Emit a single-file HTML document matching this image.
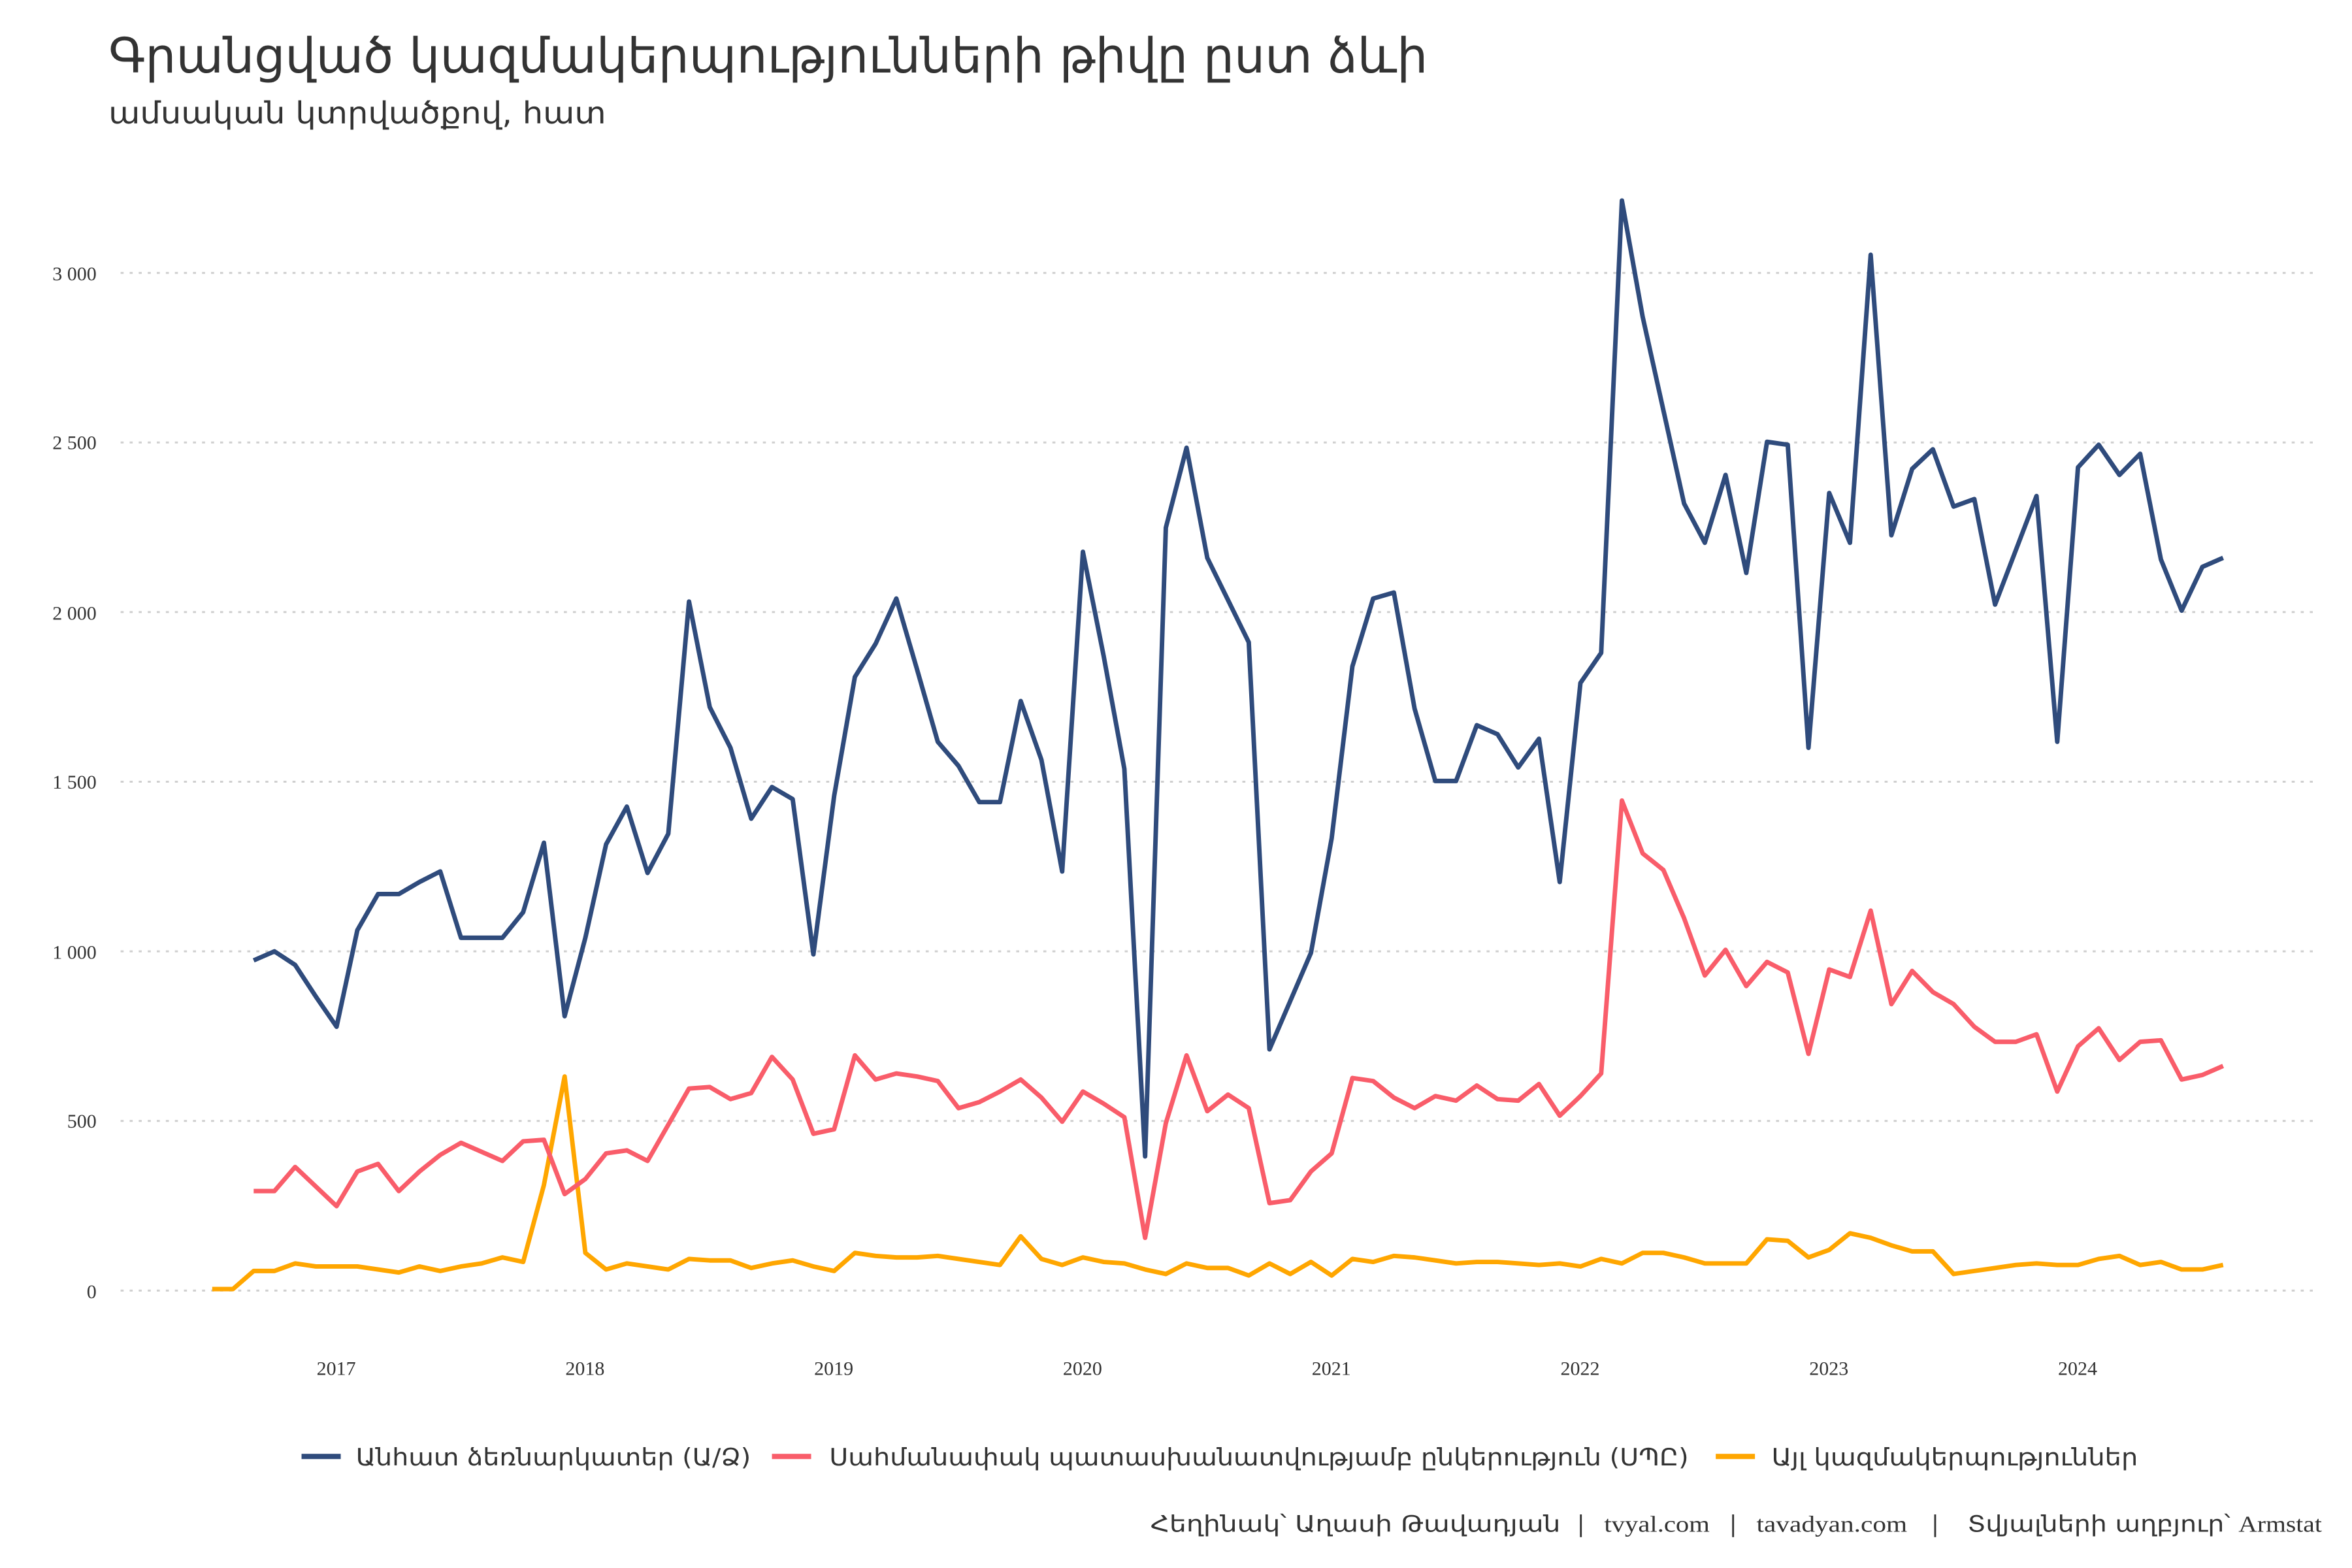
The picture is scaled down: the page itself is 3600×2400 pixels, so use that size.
<!DOCTYPE html>
<html><head><meta charset="utf-8">
<style>
html,body{margin:0;padding:0;background:#fff;}
svg{display:block;}
text{font-family:"DejaVu Sans","Liberation Sans",sans-serif;fill:#333;}
.tick{font-family:"Liberation Serif","DejaVu Serif",serif;font-size:13px;fill:#333;}
.sf{font-family:"Liberation Serif","DejaVu Serif",serif;}
</style></head><body>
<svg id="s" width="3600" height="2400" viewBox="0 0 1560 1040" xmlns="http://www.w3.org/2000/svg">
<rect width="1560" height="1040" fill="#fff"/>
<text x="72" y="48" font-size="32" fill="#3a3a3a" textLength="875" lengthAdjust="spacingAndGlyphs">Գրանցված կազմակերպությունների թիվը ըստ ձևի</text>
<text x="72" y="82" font-size="20" fill="#3a3a3a" textLength="330" lengthAdjust="spacingAndGlyphs">ամսական կտրվածքով, հատ</text>
<g stroke="#cfcfcf" stroke-width="1.3" stroke-dasharray="2,4">
<line x1="80" x2="1535" y1="181" y2="181"/><line x1="80" x2="1535" y1="293.5" y2="293.5"/>
<line x1="80" x2="1535" y1="406" y2="406"/><line x1="80" x2="1535" y1="518.5" y2="518.5"/>
<line x1="80" x2="1535" y1="631" y2="631"/><line x1="80" x2="1535" y1="743.5" y2="743.5"/>
<line x1="80" x2="1535" y1="856" y2="856"/>
</g>
<g class="tick" text-anchor="end">
<text class="tick" x="64" y="186">3 000</text><text class="tick" x="64" y="298">2 500</text>
<text class="tick" x="64" y="411">2 000</text><text class="tick" x="64" y="523">1 500</text>
<text class="tick" x="64" y="636">1 000</text><text class="tick" x="64" y="748">500</text>
<text class="tick" x="64" y="861">0</text>
</g>
<g text-anchor="middle">
<text class="tick" x="223" y="912">2017</text><text class="tick" x="388" y="912">2018</text>
<text class="tick" x="553" y="912">2019</text><text class="tick" x="718" y="912">2020</text>
<text class="tick" x="883" y="912">2021</text><text class="tick" x="1048" y="912">2022</text>
<text class="tick" x="1213" y="912">2023</text><text class="tick" x="1378" y="912">2024</text>
</g>
<polyline id="o" fill="none" stroke="#ffa600" stroke-width="3" stroke-linejoin="round"/>
<polyline id="r" fill="none" stroke="#f95d6a" stroke-width="3" stroke-linejoin="round"/>
<polyline id="b" fill="none" stroke="#2f4b7c" stroke-width="3" stroke-linejoin="round"/>
<g font-size="16">
<line x1="200" x2="226" y1="966" y2="966" stroke="#2f4b7c" stroke-width="3.5"/>
<text x="236" y="972" textLength="262" lengthAdjust="spacingAndGlyphs">Անհատ ձեռնարկատեր (Ա/Ձ)</text>
<line x1="512" x2="538" y1="966" y2="966" stroke="#f95d6a" stroke-width="3.5"/>
<text x="550" y="972" textLength="570" lengthAdjust="spacingAndGlyphs">Սահմանափակ պատասխանատվությամբ ընկերություն (ՍՊԸ)</text>
<line x1="1138" x2="1164" y1="966" y2="966" stroke="#ffa600" stroke-width="3.5"/>
<text x="1175" y="972" textLength="243" lengthAdjust="spacingAndGlyphs">Այլ կազմակերպություններ</text>
</g>
<g font-size="15">
<text x="763" y="1016" textLength="272" lengthAdjust="spacingAndGlyphs">Հեղինակ՝ Աղասի Թավադյան</text>
<text x="1046" y="1016" fill="#777">|</text>
<text class="sf" x="1064" y="1016" textLength="70" lengthAdjust="spacingAndGlyphs">tvyal.com</text>
<text x="1147" y="1016" fill="#777">|</text>
<text class="sf" x="1165" y="1016" textLength="100" lengthAdjust="spacingAndGlyphs">tavadyan.com</text>
<text x="1281" y="1016" fill="#777">|</text>
<text x="1305" y="1016" textLength="235" lengthAdjust="spacingAndGlyphs">Տվյալների աղբյուր՝ <tspan class="sf">Armstat</tspan></text>
</g>
</svg>
<script>
var B=[637,631,640,661,681,617,593,593,585,578,622,622,622,605,559,674,622,560,535,579,553,399,469,496,543,522,530,633,528,449,427,397,444,492,508,532,532,465,504,578,366,435,510,767,350,297,370,398,426,696,664,632,556,442,397,393,470,518,518,481,487,509,490,585,453,433,133,210,272,334,360,315,380,293,295,496,327,360,169,355,311,298,336,331,401,365,329,492,310,295,315,301,371,405,376,370];
var R=[790,790,774,787,800,777,772,790,777,766,758,764,770,757,756,792,782,765,763,770,746,722,721,729,725,701,716,752,749,700,716,712,714,717,735,731,724,716,728,744,724,732,741,821,745,700,737,726,735,798,796,777,765,715,717,728,735,727,730,720,729,730,719,740,727,712,531,566,577,609,647,630,654,638,645,699,643,648,604,666,644,658,666,681,691,691,686,724,694,682,703,691,690,716,713,707];
var O=[855,855,843,843,838,840,840,840,842,844,840,843,840,838,834,837,786,714,831,842,838,840,842,835,836,836,841,838,836,840,843,831,833,834,834,833,835,837,839,820,835,839,834,837,838,842,845,838,841,841,846,838,845,837,846,835,837,833,834,836,838,837,837,838,839,838,840,835,838,831,831,834,838,838,838,822,823,834,829,818,821,826,830,830,845,843,841,839,838,839,839,835,833,839,837,842,842,839];
var st=165/12;
function pts(a,x0){return a.map(function(y,i){return (x0+i*st).toFixed(2)+","+y;}).join(" ");}
document.getElementById("b").setAttribute("points",pts(B,168.25));
document.getElementById("r").setAttribute("points",pts(R,168.25));
document.getElementById("o").setAttribute("points",pts(O,140.75));
</script>
</body></html>
